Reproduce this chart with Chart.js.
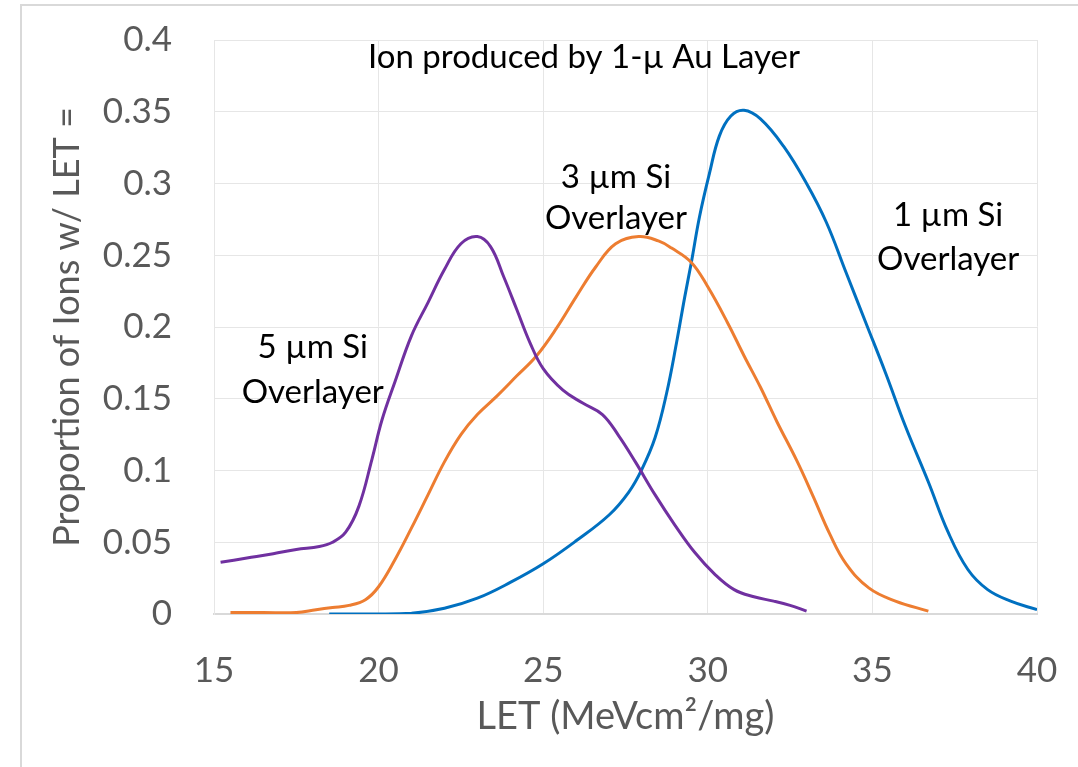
<!DOCTYPE html>
<html>
<head>
<meta charset="utf-8">
<script src="https://cdn.jsdelivr.net/npm/chart.js@4.4.1/dist/chart.umd.min.js"></script>
<style>
  html, body { margin: 0; padding: 0; background: #fff; overflow: hidden; }
  #frame { position: absolute; left: 20px; top: 4px; width: 1100px; height: 800px;
           border-left: 2px solid #d9d9d9; border-top: 2px solid #d9d9d9; }
  #chart { position: absolute; left: 0; top: 0; }
</style>
</head>
<body>
<div id="frame"></div>
<canvas id="chart" width="1078" height="767"></canvas>
<script>
// LET values (x) and proportions (y)
const let1um = [18.5, 20.0, 21.0, 22.0, 23.0, 24.0, 25.0, 26.0, 27.0, 27.6, 28.0, 28.4, 28.75, 29.05, 29.3, 29.5, 29.75, 30.05, 30.35, 30.7, 31.1, 31.6, 32.3, 33.0, 33.6, 34.2, 34.8, 35.4, 36.0, 36.7, 37.3, 37.9, 38.5, 39.2, 40.0];
const prop1um = [0.0, 0.0, 0.0005, 0.004, 0.011, 0.022, 0.035, 0.051, 0.069, 0.085, 0.101, 0.123, 0.154, 0.189, 0.221, 0.245, 0.277, 0.307, 0.333, 0.347, 0.351, 0.345, 0.326, 0.300, 0.273, 0.238, 0.203, 0.168, 0.131, 0.092, 0.057, 0.031, 0.017, 0.009, 0.003];

const let3um = [15.5, 16.5, 17.5, 18.1, 18.6, 19.1, 19.6, 20.0, 20.5, 21.0, 21.5, 22.0, 22.5, 23.0, 23.6, 24.2, 24.8, 25.4, 26.0, 26.6, 27.2, 27.9, 28.5, 28.9, 29.5, 30.0, 30.6, 31.1, 31.6, 32.1, 32.7, 33.2, 33.7, 34.2, 34.9, 35.7, 36.7];
const prop3um = [0.001, 0.001, 0.001, 0.003, 0.0045, 0.006, 0.010, 0.019, 0.038, 0.060, 0.083, 0.106, 0.125, 0.139, 0.152, 0.166, 0.180, 0.199, 0.221, 0.242, 0.258, 0.263, 0.260, 0.255, 0.245, 0.228, 0.203, 0.180, 0.158, 0.134, 0.107, 0.082, 0.056, 0.035, 0.018, 0.009, 0.002];

const let5um = [15.2, 16.0, 16.8, 17.5, 18.2, 18.6, 19.0, 19.4, 19.8, 20.1, 20.5, 21.0, 21.5, 22.0, 22.5, 23.0, 23.4, 23.8, 24.2, 24.6, 25.0, 25.6, 26.2, 26.8, 27.3, 27.8, 28.4, 29.0, 29.6, 30.2, 30.8, 31.4, 32.0, 32.5, 33.0];
const prop5um = [0.036, 0.039, 0.042, 0.045, 0.047, 0.050, 0.057, 0.075, 0.108, 0.135, 0.162, 0.194, 0.217, 0.240, 0.258, 0.263, 0.256, 0.235, 0.212, 0.189, 0.171, 0.156, 0.147, 0.139, 0.124, 0.106, 0.083, 0.062, 0.043, 0.028, 0.017, 0.012, 0.009, 0.006, 0.002];

const xTickLabels = ['15', '20', '25', '30', '35', '40'];
const yTickLabels = ['0', '0.05', '0.1', '0.15', '0.2', '0.25', '0.3', '0.35', '0.4'];

const toPoints = (xs, ys) => xs.map((x, i) => ({ x: x, y: ys[i] }));

// text labels placed in data units (baseline of each line)
const notes = [
  { text: 'Ion produced by 1-\u00b5 Au Layer', x: 26.24, y: 0.3806 },
  { text: '3 \u00b5m Si', x: 27.21, y: 0.297 },
  { text: 'Overlayer', x: 27.21, y: 0.2685 },
  { text: '1 \u00b5m Si', x: 37.30, y: 0.2705 },
  { text: 'Overlayer', x: 37.30, y: 0.2398 },
  { text: '5 \u00b5m Si', x: 18.0, y: 0.1786 },
  { text: 'Overlayer', x: 18.0, y: 0.1473 }
];

const notePlugin = {
  id: 'notes',
  afterDatasetsDraw(chart) {
    const { ctx, scales: { x, y } } = chart;
    ctx.save();
    ctx.font = '33px Lato';
    ctx.fillStyle = '#000';
    ctx.textAlign = 'center';
    ctx.textBaseline = 'alphabetic';
    notes.forEach(n => ctx.fillText(n.text, x.getPixelForValue(n.x), y.getPixelForValue(n.y)));
    ctx.restore();
  }
};

const lineStyle = {
  showLine: true,
  pointRadius: 0,
  borderWidth: 3,
  fill: false,
  tension: 0.4
};

const tickFont = { family: 'Lato', size: 35 };

new Chart(document.getElementById('chart'), {
  type: 'scatter',
  data: {
    datasets: [
      { label: '5 um Si Overlayer', data: toPoints(let5um, prop5um), borderColor: '#7030A0', ...lineStyle },
      { label: '3 um Si Overlayer', data: toPoints(let3um, prop3um), borderColor: '#ED7D31', ...lineStyle },
      { label: '1 um Si Overlayer', data: toPoints(let1um, prop1um), borderColor: '#0070C0', ...lineStyle }
    ]
  },
  options: {
    responsive: false,
    animation: false,
    layout: { padding: { top: 40, right: 41, left: 0, bottom: 0 } },
    plugins: {
      legend: { display: false },
      tooltip: { enabled: false }
    },
    scales: {
      x: {
        type: 'linear',
        min: 15,
        max: 40,
        afterFit(s) {
          s.height = 153;
          s.paddingLeft = 0;
          s.paddingRight = 0;
        },
        ticks: {
          stepSize: 5,
          color: '#595959',
          font: tickFont,
          padding: 36,
          maxRotation: 0,
          callback: (v, i) => xTickLabels[i]
        },
        grid: { color: '#e6e6e6', drawTicks: false },
        border: { color: '#d9d9d9', width: 2 },
        title: {
          display: true,
          text: 'LET (MeVcm\u00b2/mg)',
          color: '#595959',
          font: { family: 'Lato', size: 38 },
          padding: { top: 0, bottom: 27 }
        }
      },
      y: {
        min: 0,
        max: 0.4,
        afterFit(s) {
          s.width = 214;
          s.paddingTop = 0;
          s.paddingBottom = 0;
        },
        ticks: {
          stepSize: 0.05,
          color: '#595959',
          font: tickFont,
          padding: 42,
          callback: (v, i) => yTickLabels[i]
        },
        grid: { color: '#e6e6e6', drawTicks: false },
        border: { color: '#e6e6e6' },
        title: {
          display: true,
          text: 'Proportion of Ions w/ LET =',
          color: '#595959',
          font: { family: 'Lato', size: 36 },
          padding: { top: 46, bottom: 0 }
        }
      }
    }
  },
  plugins: [notePlugin]
});
</script>
</body>
</html>
